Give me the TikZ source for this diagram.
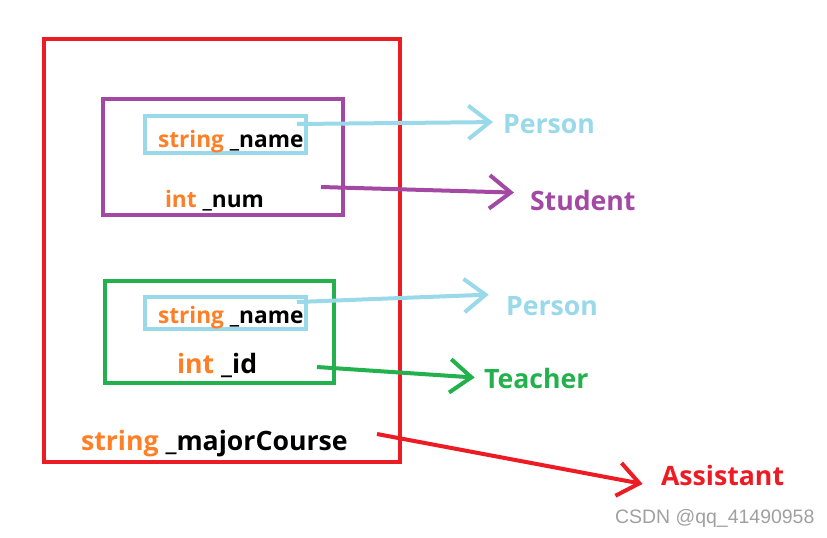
\documentclass[tikz,border=0pt]{standalone}
\usepackage{fontspec}
\setmainfont{Open Sans}
\newfontfamily\markfont{Liberation Sans}
\usetikzlibrary{arrows.meta}
\definecolor{Red}{HTML}{ED1C24}
\definecolor{Purple}{HTML}{A349A4}
\definecolor{SkyBlue}{HTML}{99D9EA}
\definecolor{Green}{HTML}{22B14C}
\definecolor{Orange}{HTML}{FF7F27}
\definecolor{MarkGray}{HTML}{A0A0A0}
\newcommand{\member}[2]{\textcolor{Orange}{#1} #2}

\begin{document}
\begin{tikzpicture}[x=0.75pt,y=-0.75pt,line width=3pt,
    box/.style={draw=#1,inner sep=0pt},
    field/.style={anchor=base west,inner sep=0pt,
      font=\bfseries\fontsize{17}{17}\selectfont},
    bigfield/.style={field,font=\bfseries\fontsize{20}{20}\selectfont},
    cls/.style={anchor=base west,inner sep=0pt,text=#1,
      font=\bfseries\fontsize{20}{20}\selectfont},
    link/.style={draw=#1,-{Straight Barb[length=16pt,width=25pt]}}]
  \useasboundingbox (0,0) rectangle (827,537);
  % boxes
  \node[box=Red,minimum width=267pt,minimum height=317.25pt] (assistBox) at (222,250.5) {};
  \node[box=Purple,minimum width=180pt,minimum height=87pt] (studentBox) at (222.5,156.5) {};
  \node[box=SkyBlue,minimum width=120.75pt,minimum height=27.75pt] (personBox1) at (225.5,134.5) {};
  \node[box=Green,minimum width=171.75pt,minimum height=76.5pt] (teacherBox) at (219.5,332) {};
  \node[box=SkyBlue,minimum width=120.75pt,minimum height=24pt] (personBox2) at (225.5,313) {};
  % members
  \node[field] (name1) at (156,147) {\member{string}{\_name}};
  \node[field] (num) at (163,207) {\member{int}{\_num}};
  \node[field] (name2) at (156,323) {\member{string}{\_name}};
  \node[bigfield] (id) at (175,373) {\member{int}{\_id}};
  \node[bigfield] (major) at (79,450) {\member{string}{\_majorCourse}};
  % class names
  \node[cls=SkyBlue] (person1) at (501,133) {Person};
  \node[cls=Purple] (student) at (528,210) {Student};
  \node[cls=SkyBlue] (person2) at (504,315) {Person};
  \node[cls=Green] (teacher) at (482,388) {Teacher};
  \node[cls=Red] (assistant) at (659,485) {Assistant};
  \node[anchor=base west,inner sep=0pt,text=MarkGray,
    font=\markfont\fontsize{14.6}{14.6}\selectfont] (mark) at (613,523) {CSDN @qq\_41490958};
  % arrows
  \coordinate (tail1) at (297,124);
  \coordinate (tail2) at (321,187);
  \coordinate (tail3) at (297,302);
  \coordinate (tail4) at (317,367);
  \coordinate (tail5) at (377,434);
  \draw[link=SkyBlue,shorten >=6pt] (tail1) -- ([yshift=8.25pt]person1.base west);
  \draw[link=Purple,shorten >=10.5pt] (tail2) -- ([yshift=12.75pt]student.base west);
  \draw[link=SkyBlue,shorten >=11.5pt] (tail3) -- ([yshift=15.75pt]person2.base west);
  \draw[link=Green,shorten >=5.5pt] (tail4) -- ([yshift=7.5pt]teacher.base west);
  \draw[link=Red,shorten >=12.5pt] (tail5) -- ([yshift=-1.5pt]assistant.base west);
\end{tikzpicture}
\end{document}
